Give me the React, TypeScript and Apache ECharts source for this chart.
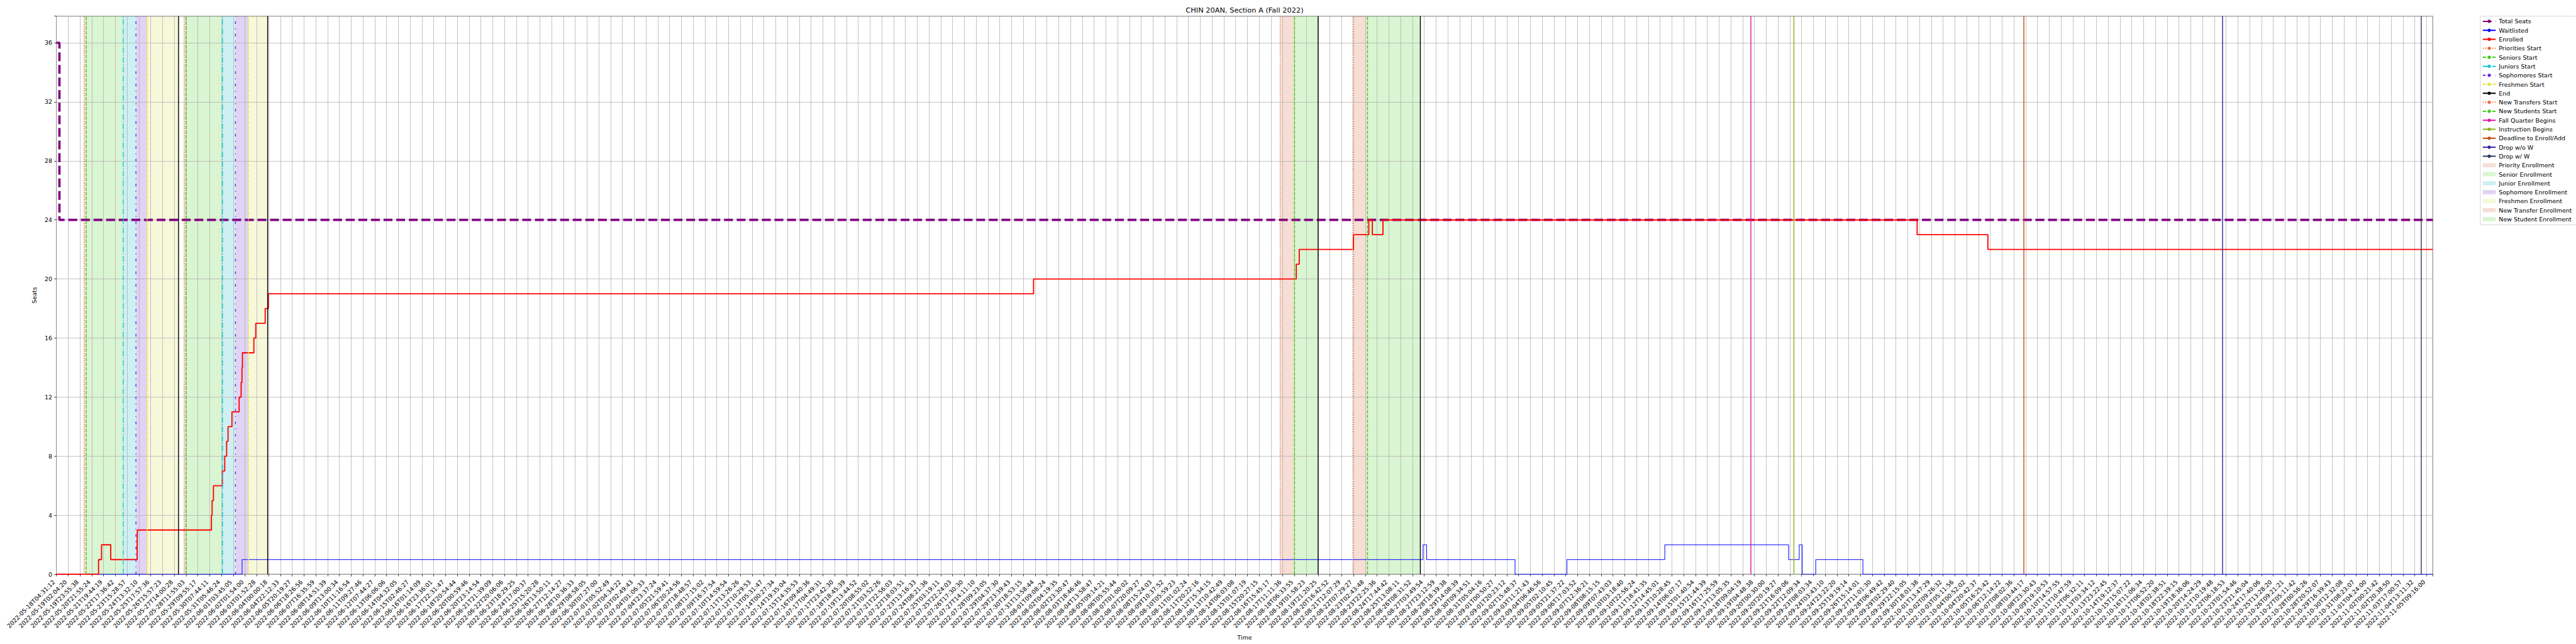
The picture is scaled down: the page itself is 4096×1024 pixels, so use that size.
import React, { useEffect, useRef } from "react";
import * as echarts from "echarts";

const TITLE = "CHIN 20AN, Section A (Fall 2022)";
const FONT = "DejaVu Sans";

const TICK_LABELS = [
  "2022-05-18T04:31:12","2022-05-19T02:04:20","2022-05-19T23:55:38","2022-05-20T21:55:24","2022-05-21T19:44:19",
  "2022-05-22T17:36:42","2022-05-23T15:28:57","2022-05-24T13:32:10","2022-05-25T17:57:36","2022-05-26T15:57:23",
  "2022-05-27T14:00:28","2022-05-28T11:55:03","2022-05-29T09:55:17","2022-05-30T07:44:11","2022-05-31T05:46:24",
  "2022-06-01T03:45:05","2022-06-02T01:54:00","2022-06-03T01:52:28","2022-06-04T00:00:18","2022-06-04T22:12:33",
  "2022-06-05T20:19:27","2022-06-06T18:26:56","2022-06-07T16:35:59","2022-06-08T14:51:39","2022-06-09T13:00:34",
  "2022-06-10T11:16:54","2022-06-11T09:27:46","2022-06-12T07:44:27","2022-06-13T06:06:06","2022-06-14T04:32:05",
  "2022-06-15T02:46:27","2022-06-16T01:14:09","2022-06-16T23:36:01","2022-06-17T22:31:47","2022-06-18T20:54:44",
  "2022-06-20T00:59:46","2022-06-20T23:14:54","2022-06-21T21:39:09","2022-06-22T20:06:06","2022-06-23T18:29:25",
  "2022-06-24T17:00:37","2022-06-25T15:20:28","2022-06-26T13:50:11","2022-06-27T12:14:27","2022-06-28T10:36:33",
  "2022-06-29T08:58:05","2022-06-30T07:27:00","2022-07-01T05:52:49","2022-07-02T04:34:22","2022-07-03T02:49:43",
  "2022-07-04T01:06:33","2022-07-04T23:37:24","2022-07-05T21:59:41","2022-07-06T20:24:56","2022-07-07T18:48:57",
  "2022-07-08T17:15:02","2022-07-09T16:37:54","2022-07-10T14:59:54","2022-07-11T13:26:26","2022-07-12T10:29:53",
  "2022-07-13T05:31:47","2022-07-14T00:27:34","2022-07-14T19:35:04","2022-07-15T14:35:53","2022-07-16T09:40:36",
  "2022-07-17T04:49:31","2022-07-17T23:42:30","2022-07-18T18:45:39","2022-07-19T13:44:52","2022-07-20T08:55:02",
  "2022-07-21T03:52:26","2022-07-21T22:56:03","2022-07-22T18:03:51","2022-07-23T13:16:33","2022-07-24T08:21:36",
  "2022-07-25T03:19:11","2022-07-25T22:24:03","2022-07-26T17:30:30","2022-07-27T14:11:10","2022-07-28T09:23:05",
  "2022-07-29T04:37:30","2022-07-29T23:39:43","2022-07-30T18:53:15","2022-07-31T13:58:44","2022-08-01T09:08:24",
  "2022-08-02T04:19:35","2022-08-02T23:30:47","2022-08-03T18:46:46","2022-08-04T13:58:47","2022-08-05T09:14:21",
  "2022-08-06T05:55:44","2022-08-07T01:00:02","2022-08-07T20:09:27","2022-08-08T15:24:03","2022-08-09T10:37:52",
  "2022-08-10T05:59:23","2022-08-11T01:02:24","2022-08-11T20:22:16","2022-08-12T15:34:15","2022-08-13T10:42:49",
  "2022-08-14T06:03:08","2022-08-15T01:07:19","2022-08-15T20:27:15","2022-08-16T15:45:17","2022-08-17T11:11:36",
  "2022-08-18T06:33:55","2022-08-19T01:58:23","2022-08-19T21:20:25","2022-08-20T16:42:52","2022-08-21T12:07:29",
  "2022-08-22T07:29:27","2022-08-23T02:43:48","2022-08-23T22:25:36","2022-08-24T17:44:42","2022-08-25T13:08:11",
  "2022-08-26T08:31:52","2022-08-27T03:49:54","2022-08-27T23:12:59","2022-08-28T18:39:38","2022-08-29T14:08:39",
  "2022-08-30T09:34:51","2022-08-31T05:04:16","2022-09-01T00:50:27","2022-09-01T20:23:12","2022-09-02T15:48:37",
  "2022-09-03T11:21:43","2022-09-04T06:46:56","2022-09-05T02:10:45","2022-09-05T21:37:22","2022-09-06T17:03:52",
  "2022-09-07T12:36:21","2022-09-08T08:15:15","2022-09-09T07:43:03","2022-09-10T03:18:40","2022-09-10T22:56:24",
  "2022-09-11T18:41:35","2022-09-12T14:45:01","2022-09-13T10:28:45","2022-09-14T06:07:17","2022-09-15T01:40:54",
  "2022-09-15T21:44:39","2022-09-16T17:25:59","2022-09-17T13:05:35","2022-09-18T09:04:19","2022-09-19T04:48:38",
  "2022-09-20T00:30:00","2022-09-20T20:19:27","2022-09-21T16:09:06","2022-09-22T12:09:34","2022-09-23T08:03:34",
  "2022-09-24T03:43:10","2022-09-24T23:22:20","2022-09-25T19:19:14","2022-09-26T15:14:01","2022-09-27T11:01:30",
  "2022-09-28T06:49:42","2022-09-29T02:29:40","2022-09-29T22:15:05","2022-09-30T18:01:38","2022-10-01T13:47:29",
  "2022-10-02T09:26:32","2022-10-03T05:11:56","2022-10-04T00:52:02","2022-10-04T20:42:37","2022-10-05T16:25:42",
  "2022-10-06T12:14:22","2022-10-07T08:02:36","2022-10-08T03:44:17","2022-10-08T23:30:43","2022-10-09T19:10:53",
  "2022-10-10T14:57:55","2022-10-11T10:47:59","2022-10-12T06:32:11","2022-10-13T03:34:12","2022-10-13T23:22:45",
  "2022-10-14T19:12:37","2022-10-15T15:07:22","2022-10-16T11:06:34","2022-10-17T06:52:20","2022-10-18T02:38:51",
  "2022-10-18T22:39:15","2022-10-19T18:36:06","2022-10-20T14:24:29","2022-10-21T10:19:48","2022-10-22T06:18:53",
  "2022-10-23T01:54:46","2022-10-23T21:45:04","2022-10-24T17:40:06","2022-10-25T13:28:20","2022-10-26T09:21:21",
  "2022-10-27T05:11:42","2022-10-28T00:56:26","2022-10-28T20:52:07","2022-10-29T16:39:43","2022-10-30T12:32:08",
  "2022-10-31T08:23:07","2022-11-01T04:24:00","2022-11-02T00:21:42","2022-11-02T20:38:50","2022-11-03T17:00:57",
  "2022-11-04T13:11:32","2022-11-05T09:16:00",
];

// x values are positions in tick-label units (index of the sampled time labels)
const X_MAX = 201.53;
const Y_MAX = 37.8;
const Y_TICK = 4;

const TOTAL_SEATS = [[0, 36], [0.26, 24], [X_MAX, 24]];
const WAITLISTED = [
  [0, 0], [15.75, 1], [115.9, 2], [116.2, 1], [123.7, 0], [128.1, 1], [136.4, 2],
  [146.9, 1], [147.8, 2], [148.05, 0], [149.2, 1], [153.2, 0], [X_MAX, 0],
];
const ENROLLED = [
  [0, 0], [3.58, 1], [3.83, 2], [4.61, 1], [6.85, 2], [6.87, 3], [13.15, 4], [13.21, 5],
  [13.32, 6], [14.08, 7], [14.28, 8], [14.44, 9], [14.56, 10], [14.89, 11], [15.5, 12],
  [15.67, 13], [15.74, 14], [15.78, 15], [16.75, 16], [16.91, 17], [17.71, 18], [17.97, 19],
  [82.87, 20], [105.15, 21], [105.4, 22], [110.0, 23], [111.3, 24], [111.6, 23], [112.5, 24],
  [157.8, 23], [163.8, 22], [X_MAX, 22],
];

const PRIORITIES_START = [2.35, 10.83];
const SENIORS_START = [2.53, 11.0];
const JUNIORS_START = [5.67, 14.09];
const SOPHOMORES_START = [6.75, 15.19];
const FRESHMEN_START = [7.69, 16.28];
const END = [10.36, 17.92, 107.0, 115.67];
const NEW_TRANSFERS_START = [103.78, 109.94];
const NEW_STUDENTS_START = [105.0, 111.19];
const FALL_QUARTER_BEGINS = [143.7];
const INSTRUCTION_BEGINS = [147.35];
const DEADLINE_ENROLL_ADD = [166.85];
const DROP_WO_W = [183.7];
const DROP_W_W = [200.55];

// scale: 0.682 of reference
const S = 0.682;
const PT = 1.389 * S; // one matplotlib point in output px
const FS = 10 * PT;

const dotted = [1 * 1.5 * PT, 1.65 * 1.5 * PT];
const dashed = [3.7 * 1.5 * PT, 1.6 * 1.5 * PT];
const dashdot = [6.4 * 1.5 * PT, 1.6 * 1.5 * PT, 1 * 1.5 * PT, 1.6 * 1.5 * PT];
const looseDashdot = [3 * 1.5 * PT, 5 * 1.5 * PT, 1 * 1.5 * PT, 5 * 1.5 * PT];
const denseDashdot = [3 * 1.5 * PT, 1 * 1.5 * PT, 1 * 1.5 * PT, 1 * 1.5 * PT];
const VLW = 1.5 * PT;

const GRID_LEFT = 131.4 * S;
const GRID_TOP = 37.7 * S;
const GRID_W = (5672 - 131.4) * S;
const GRID_H = (1339 - 37.7) * S;

function stepLine(name: string, data: number[][], color: string, width: number, type: any) {
  return {
    type: "line",
    name,
    data,
    step: "end",
    symbol: "none",
    showSymbol: false,
    silent: true,
    clip: true,
    z: 3,
    lineStyle: { color, width, type },
    itemStyle: { color },
    emphasis: { disabled: true },
  };
}

function vLines(name: string, xs: number[], color: string, type: any) {
  return xs.map((x) => ({
    type: "line",
    name,
    data: [[x, 0], [x, Y_MAX]],
    symbol: "none",
    showSymbol: false,
    silent: true,
    clip: true,
    z: 4,
    lineStyle: { color, width: VLW, type },
    itemStyle: { color },
    emphasis: { disabled: true },
  }));
}

function spans(name: string, starts: number[], ends: number[], color: string) {
  return {
    type: "custom",
    name,
    z: -1,
    silent: true,
    clip: true,
    itemStyle: { color },
    encode: { x: [0, 1], y: 2 },
    data: starts.map((s, i) => [s, ends[i], 0]),
    renderItem: (_p: any, api: any) => {
      const a = api.coord([api.value(0), Y_MAX]);
      const b = api.coord([api.value(1), 0]);
      return {
        type: "rect",
        shape: { x: a[0], y: a[1], width: b[0] - a[0], height: b[1] - a[1] },
        style: { fill: color },
      };
    },
  };
}

const C = {
  priorities: "#f26a35",
  seniors: "#3bd016",
  juniors: "#17c8d8",
  sophomores: "#6a28e0",
  freshmen: "#e2e236",
  end: "#000000",
  fall: "#e014a8",
  instruction: "#8ab418",
  deadline: "#cc4418",
  dropwo: "#34289a",
  dropw: "#2c3b5c",
  fPriority: "#f6ded4",
  fSenior: "#d9f5d1",
  fJunior: "#cef0f2",
  fSophomore: "#e0d3f4",
  fFreshmen: "#f7f8da",
};

const LEGEND = [
  "Total Seats", "Waitlisted", "Enrolled", "Priorities Start", "Seniors Start", "Juniors Start",
  "Sophomores Start", "Freshmen Start", "End", "New Transfers Start", "New Students Start",
  "Fall Quarter Begins", "Instruction Begins", "Deadline to Enroll/Add", "Drop w/o W", "Drop w/ W",
];
const LEGEND_PATCHES = [
  "Priority Enrollment", "Senior Enrollment", "Junior Enrollment", "Sophomore Enrollment",
  "Freshmen Enrollment", "New Transfer Enrollment", "New Student Enrollment",
];

export default function App() {
  const ref = useRef<HTMLDivElement>(null);
  useEffect(() => {
    if (!ref.current) return;
    const chart = echarts.init(ref.current, null, { renderer: "svg" });
    const series: any[] = [
      spans("Priority Enrollment", PRIORITIES_START, SENIORS_START, C.fPriority),
      spans("Senior Enrollment", SENIORS_START, JUNIORS_START, C.fSenior),
      spans("Junior Enrollment", JUNIORS_START, SOPHOMORES_START, C.fJunior),
      spans("Sophomore Enrollment", SOPHOMORES_START, FRESHMEN_START, C.fSophomore),
      spans("Freshmen Enrollment", FRESHMEN_START, END.slice(0, 2), C.fFreshmen),
      spans("New Transfer Enrollment", NEW_TRANSFERS_START, NEW_STUDENTS_START, C.fPriority),
      spans("New Student Enrollment", NEW_STUDENTS_START, END.slice(2, 4), C.fSenior),
      stepLine("Total Seats", TOTAL_SEATS, "#800080", 5.4 * S, [20.7 * S, 8.7 * S]),
      stepLine("Waitlisted", WAITLISTED, "#0000ff", 1.5 * S, "solid"),
      stepLine("Enrolled", ENROLLED, "#ff0000", 2.7 * S, "solid"),
      ...vLines("Priorities Start", PRIORITIES_START, C.priorities, dotted),
      ...vLines("Seniors Start", SENIORS_START, C.seniors, dashed),
      ...vLines("Juniors Start", JUNIORS_START, C.juniors, dashdot),
      ...vLines("Sophomores Start", SOPHOMORES_START, C.sophomores, looseDashdot),
      ...vLines("Freshmen Start", FRESHMEN_START, C.freshmen, denseDashdot),
      ...vLines("End", END, C.end, "solid"),
      ...vLines("New Transfers Start", NEW_TRANSFERS_START, C.priorities, dotted),
      ...vLines("New Students Start", NEW_STUDENTS_START, C.seniors, dashed),
      ...vLines("Fall Quarter Begins", FALL_QUARTER_BEGINS, C.fall, "solid"),
      ...vLines("Instruction Begins", INSTRUCTION_BEGINS, C.instruction, "solid"),
      ...vLines("Deadline to Enroll/Add", DEADLINE_ENROLL_ADD, C.deadline, "solid"),
      ...vLines("Drop w/o W", DROP_WO_W, C.dropwo, "solid"),
      ...vLines("Drop w/ W", DROP_W_W, C.dropw, "solid"),
    ];

    const option: any = {
      animation: false,
      backgroundColor: "#ffffff",
      textStyle: { fontFamily: FONT },
      title: {
        text: TITLE,
        left: GRID_LEFT + GRID_W / 2,
        textAlign: "center",
        top: 9.4,
        padding: 0,
        textStyle: { fontFamily: FONT, fontSize: 12 * PT, fontWeight: "normal", color: "#000", lineHeight: 13.3 },
      },
      legend: {
        orient: "vertical",
        left: 5782.7 * S,
        top: GRID_TOP,
        padding: [2.2, 8, 3, 3],
        itemWidth: 20.5,
        itemHeight: 6.6,
        itemGap: 2.3,
        backgroundColor: "rgba(255,255,255,0.8)",
        borderColor: "#cccccc",
        borderWidth: 0.8,
        borderRadius: 3,
        selectedMode: false,
        textStyle: { fontFamily: FONT, fontSize: FS, color: "#000", lineHeight: 12 },
        data: [
          ...LEGEND.map((n) => ({ name: n })),
          ...LEGEND_PATCHES.map((n) => ({ name: n, icon: "rect" })),
        ],
      },
      grid: {
        left: GRID_LEFT,
        top: GRID_TOP,
        width: GRID_W,
        height: GRID_H,
        show: true,
        borderColor: "#000",
        borderWidth: 0.8 * PT,
        backgroundColor: "transparent",
        containLabel: false,
        outerBoundsMode: "none",
      },
      xAxis: {
        type: "value",
        min: 0,
        max: X_MAX,
        interval: 1,
        name: "Time",
        nameLocation: "middle",
        nameGap: 88,
        nameTextStyle: { fontFamily: FONT, fontSize: FS, color: "#000", lineHeight: 11 },
        axisLine: { show: false },
        axisTick: { show: true, length: 3.5 * PT, lineStyle: { color: "#000", width: 0.8 * PT } },
        splitLine: { show: true, lineStyle: { color: "#b0b0b0", width: 0.8 * PT } },
        axisLabel: {
          rotate: 45,
          margin: 3.5 * PT * 2 + 0.707 * 11,
          align: "right",
          verticalAlign: "bottom",
          hideOverlap: false,
          fontFamily: FONT,
          fontSize: FS,
          lineHeight: 11,
          color: "#000",
          formatter: (v: number) => {
            const i = Math.round(v);
            return Math.abs(v - i) < 1e-6 && TICK_LABELS[i] ? TICK_LABELS[i] : "";
          },
        },
      },
      yAxis: {
        type: "value",
        min: 0,
        max: Y_MAX,
        interval: Y_TICK,
        name: "Seats",
        nameLocation: "middle",
        nameGap: 22.6,
        nameTextStyle: { fontFamily: FONT, fontSize: FS, color: "#000", lineHeight: 11 },
        axisLine: { show: false },
        axisTick: { show: true, length: 3.5 * PT, lineStyle: { color: "#000", width: 0.8 * PT } },
        splitLine: { show: true, lineStyle: { color: "#b0b0b0", width: 0.8 * PT } },
        axisLabel: {
          margin: 3.5 * PT * 2,
          fontFamily: FONT,
          fontSize: FS,
          color: "#000",
          hideOverlap: false,
          formatter: (v: number) => (Math.abs(v % Y_TICK) < 1e-6 ? String(v) : ""),
        },
      },
      series,
    };
    chart.setOption(option);
    return () => chart.dispose();
  }, []);

  return (
    <div
      ref={ref}
      style={{ position: "fixed", left: 0, top: 0, width: 4096, height: 1024, background: "#fff" }}
    />
  );
}
